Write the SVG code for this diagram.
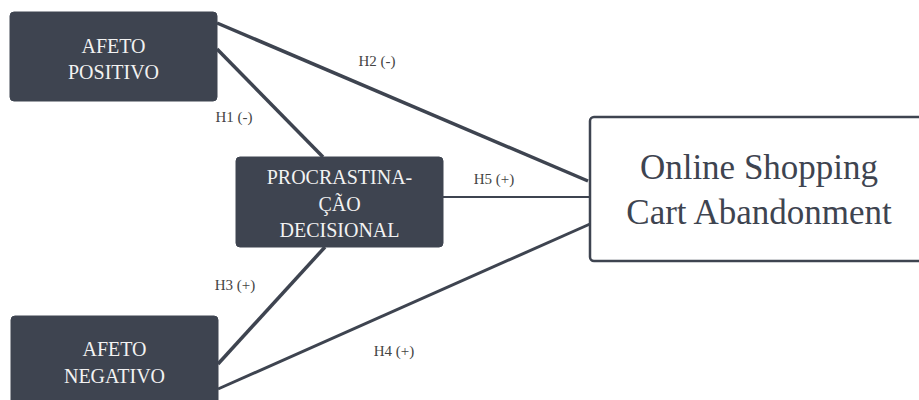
<svg xmlns="http://www.w3.org/2000/svg" width="919" height="400" viewBox="0 0 919 400">
<style>
.node rect{fill:#3e4450;stroke:#3e4450;stroke-width:1}
.node text{fill:#f2f2f2;font-family:'Liberation Serif','Times New Roman',Tinos,'DejaVu Serif',serif;font-size:20px;text-anchor:middle}
.edge{stroke:#3e4450;fill:none;stroke-linecap:butt}
.lbl{fill:#444;font-family:'Liberation Serif','Times New Roman',Tinos,'DejaVu Serif',serif;font-size:15px;text-anchor:middle}
.out rect{fill:#fff;stroke:#3e4450;stroke-width:2.5}
.out text{fill:#3e4450;font-family:'Liberation Serif','Times New Roman',Tinos,'DejaVu Serif',serif;font-size:35px;text-anchor:middle}
</style>
<rect width="919" height="400" fill="#fff"/>
<g id="connectors">
<line class="edge" x1="217" y1="23" x2="588" y2="181" stroke-width="3.5"/>
<line class="edge" x1="217" y1="49" x2="323" y2="157" stroke-width="3.5"/>
<line class="edge" x1="443" y1="197" x2="590" y2="197" stroke-width="2"/>
<line class="edge" x1="325" y1="247" x2="218" y2="364" stroke-width="3.5"/>
<line class="edge" x1="218" y1="389" x2="590" y2="224" stroke-width="3"/>
<text class="lbl" x="377" y="66">H2 (-)</text>
<text class="lbl" x="234" y="122">H1 (-)</text>
<text class="lbl" x="494" y="184">H5 (+)</text>
<text class="lbl" x="235" y="290">H3 (+)</text>
<text class="lbl" x="394" y="356">H4 (+)</text>
</g>
<g id="afeto-positivo" class="node">
<rect x="10" y="12" width="207" height="89" rx="4"/>
<text x="113.5" y="53">AFETO</text>
<text x="113.5" y="79">POSITIVO</text>
</g>
<g id="procrastinacao" class="node">
<rect x="236" y="157" width="207" height="90" rx="4"/>
<text x="339.5" y="184">PROCRASTINA-</text>
<text x="339.5" y="211">ÇÃO</text>
<text x="339.5" y="237">DECISIONAL</text>
</g>
<g id="afeto-negativo" class="node">
<rect x="11" y="316" width="207" height="89" rx="4"/>
<text x="114.5" y="356">AFETO</text>
<text x="114.5" y="383">NEGATIVO</text>
</g>
<g id="online-shopping" class="out">
<rect x="590" y="117" width="340" height="144" rx="4"/>
<text x="759" y="179">Online Shopping</text>
<text x="759" y="224">Cart Abandonment</text>
</g>
</svg>
